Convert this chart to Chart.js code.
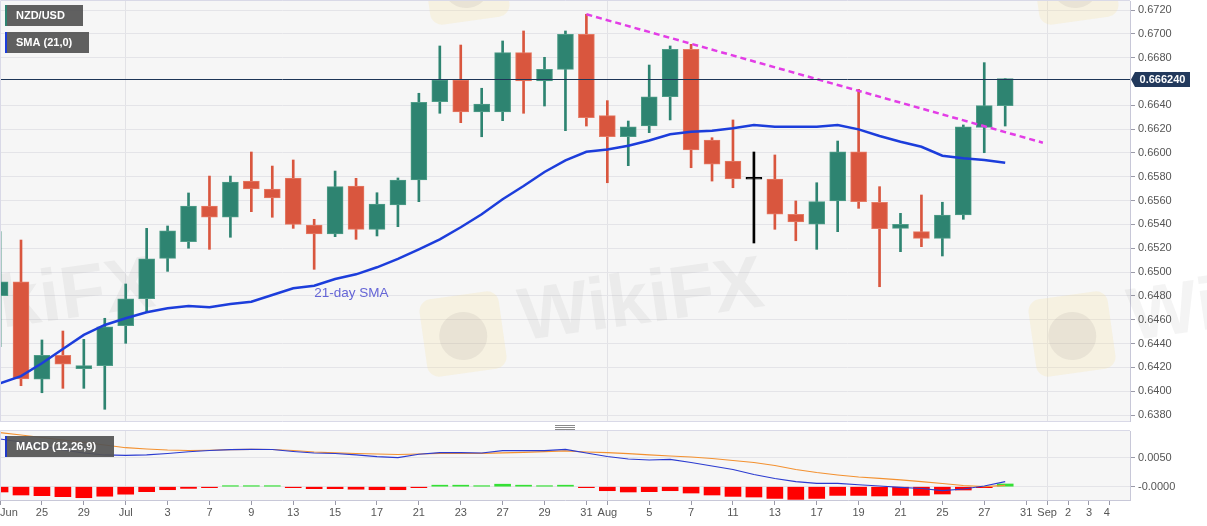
<!DOCTYPE html>
<html>
<head>
<meta charset="utf-8">
<script src="https://cdn.jsdelivr.net/npm/chart.js@4.4.0/dist/chart.umd.min.js"></script>
<style>
  html, body { margin: 0; padding: 0; background: #fff; }
  #wrap { position: relative; width: 1207px; height: 526px; overflow: hidden; background: #fff; }
  #main { position: absolute; left: 0; top: 0; }
  #macd { position: absolute; left: 0; top: 423px; }
</style>
</head>
<body>
<div id="wrap">
  <canvas id="main" width="1207" height="423"></canvas>
  <canvas id="macd" width="1207" height="103"></canvas>
</div>
<script>
// --- data (daily NZD/USD, Jun 23 -> Aug 28) ---
const days = ["Jun 23","Jun 24","Jun 25","Jun 26","Jun 29","Jun 30","Jul 1","Jul 2","Jul 3","Jul 6","Jul 7","Jul 8","Jul 9","Jul 10","Jul 13","Jul 14","Jul 15","Jul 16","Jul 17","Jul 20","Jul 21","Jul 22","Jul 23","Jul 24","Jul 27","Jul 28","Jul 29","Jul 30","Jul 31","Aug 3","Aug 4","Aug 5","Aug 6","Aug 7","Aug 10","Aug 11","Aug 12","Aug 13","Aug 14","Aug 17","Aug 18","Aug 19","Aug 20","Aug 21","Aug 24","Aug 25","Aug 26","Aug 27","Aug 28"]

const opens = [0.64802,0.64919,0.64100,0.64301,0.64188,0.64214,0.64550,0.64776,0.65115,0.65255,0.65555,0.65460,0.65764,0.65697,0.65790,0.65395,0.65320,0.65722,0.65359,0.65563,0.65773,0.66430,0.66612,0.66344,0.66344,0.66842,0.66604,0.66702,0.66996,0.66313,0.66136,0.66226,0.66472,0.66870,0.66109,0.65932,0.65779,0.65781,0.65485,0.65403,0.65597,0.66010,0.65586,0.65367,0.65339,0.65283,0.65479,0.66215,0.66397]
const highs = [0.65339,0.65269,0.64430,0.64505,0.64435,0.64612,0.64900,0.65367,0.65387,0.65664,0.65806,0.65806,0.66008,0.65890,0.65941,0.65443,0.65848,0.65787,0.65666,0.65790,0.66501,0.66898,0.66906,0.66543,0.66940,0.67024,0.66803,0.67024,0.67164,0.66439,0.66268,0.66738,0.66898,0.66912,0.66128,0.66277,0.66008,0.65983,0.65597,0.65750,0.66100,0.66534,0.65717,0.65493,0.65647,0.65586,0.66235,0.66758,0.66624]
const lows = [0.64373,0.64046,0.63987,0.64024,0.64024,0.63848,0.64402,0.64659,0.65006,0.65200,0.65191,0.65292,0.65507,0.65460,0.65367,0.65023,0.65297,0.65275,0.65303,0.65381,0.65591,0.66333,0.66254,0.66136,0.66271,0.66333,0.66394,0.66187,0.66226,0.65750,0.65893,0.66170,0.66277,0.65876,0.65764,0.65708,0.65244,0.65359,0.65263,0.65191,0.65339,0.65535,0.64877,0.65171,0.65213,0.65135,0.65443,0.66002,0.66226]
const closes = [0.64919,0.64102,0.64301,0.64226,0.64214,0.64541,0.64776,0.65112,0.65347,0.65555,0.65460,0.65756,0.65697,0.65622,0.65401,0.65320,0.65717,0.65359,0.65571,0.65773,0.66425,0.66612,0.66344,0.66411,0.66842,0.66604,0.66702,0.66996,0.66296,0.66136,0.66220,0.66472,0.66870,0.66025,0.65905,0.65781,0.65779,0.65487,0.65420,0.65591,0.66010,0.65591,0.65364,0.65401,0.65283,0.65479,0.66220,0.66397,0.66624]

const sma21 = [0.64066,0.64127,0.64234,0.64354,0.64472,0.64556,0.64612,0.64662,0.64696,0.64715,0.64704,0.64732,0.64751,0.64807,0.64864,0.64885,0.64942,0.64981,0.65040,0.65110,0.65191,0.65275,0.65376,0.65485,0.65611,0.65722,0.65840,0.65938,0.66010,0.66029,0.66061,0.66104,0.66157,0.66178,0.66187,0.66207,0.66235,0.66220,0.66220,0.66220,0.66235,0.66198,0.66142,0.66094,0.66052,0.65977,0.65955,0.65941,0.65918]

const macdLine = [0.00822,0.00771,0.00702,0.00633,0.00581,0.00547,0.00541,0.00547,0.00572,0.00603,0.00624,0.00638,0.00645,0.00641,0.00607,0.00581,0.00572,0.00547,0.00517,0.00500,0.00559,0.00586,0.00586,0.00581,0.00621,0.00621,0.00621,0.00645,0.00581,0.00521,0.00478,0.00460,0.00472,0.00417,0.00357,0.00297,0.00210,0.00141,0.00086,0.00059,0.00059,0.00034,0.00012,-0.00010,-0.00031,-0.00066,-0.00040,0.00012,0.00086]
const signalLine = [0.00931,0.00891,0.00848,0.00805,0.00762,0.00719,0.00672,0.00650,0.00633,0.00624,0.00628,0.00638,0.00645,0.00641,0.00624,0.00598,0.00584,0.00572,0.00564,0.00555,0.00564,0.00576,0.00576,0.00576,0.00584,0.00593,0.00603,0.00616,0.00598,0.00586,0.00569,0.00547,0.00529,0.00512,0.00486,0.00452,0.00417,0.00366,0.00297,0.00245,0.00202,0.00167,0.00145,0.00116,0.00086,0.00055,0.00021,0.00000,0.00024]
const macdHist = [-0.00091,-0.00143,-0.00155,-0.00172,-0.00190,-0.00164,-0.00129,-0.00086,-0.00052,-0.00029,-0.00012,0.00017,0.00017,0.00009,-0.00012,-0.00034,-0.00034,-0.00043,-0.00052,-0.00052,-0.00009,0.00026,0.00026,0.00017,0.00043,0.00026,0.00017,0.00026,-0.00009,-0.00069,-0.00091,-0.00086,-0.00069,-0.00109,-0.00143,-0.00167,-0.00178,-0.00202,-0.00219,-0.00202,-0.00150,-0.00150,-0.00160,-0.00150,-0.00150,-0.00126,-0.00057,-0.00009,0.00047]

// resistance line: Jul 31 high -> beyond Aug 28
const trendSlots = [28, 49.8]
const trendPrices = [0.67164, 0.66086]

// axes
const priceTicks = [0.6380,0.6400,0.6420,0.6440,0.6460,0.6480,0.6500,0.6520,0.6540,0.6560,0.6580,0.6600,0.6620,0.6640,0.6680,0.6700,0.6720]
const macdTicks = [0, 0.005]
const macdTickLabels = ["-0.0000", "0.0050"]
const xTickSlots = [0,2,4,6,8,10,12,14,16,18,20,22,24,26,28,29,31,33,35,37,39,41,43,45,47,49,50,51,52,53]
const xTickLabels = ["Jun","25","29","Jul","3","7","9","13","15","17","21","23","27","29","31","Aug","5","7","11","13","17","19","21","25","27","31","Sep","2","3","4"]
const monthSlots = [6, 29, 50]

const FONT = '"Liberation Sans", Arial, Helvetica, sans-serif'
Chart.defaults.font.family = FONT
Chart.defaults.font.size = 11

const GREEN = "#2e8471"
const RED = "#d9563e"
const X_MIN = -0.003
const X_MAX = 53.96

const slots = days.map((d, i) => i)
const dirColor = (i, up, down, flat) =>
  closes[i] > opens[i] ? up : closes[i] < opens[i] ? down : flat
const bodyColors = slots.map((i) => dirColor(i, GREEN, RED, "#000"))
const bodyEdges = slots.map((i) => dirColor(i, "#4f9d88", "#e57a64", "#000"))

function tag(ctx, x, y, w, h, text, bar) {
  ctx.save()
  ctx.fillStyle = "rgba(84, 84, 84, 0.93)"
  ctx.fillRect(x, y, w, h)
  ctx.fillStyle = bar
  ctx.fillRect(x, y, 2, h)
  ctx.fillStyle = "#fff"
  ctx.font = "bold 11px " + FONT
  ctx.textBaseline = "middle"
  ctx.fillText(text, x + 11, y + h / 2 + 0.5)
  ctx.restore()
}

// faint watermark pattern
const markSpots = [[-146, 334], [463, 334], [1072, 334], [-143, -18], [466, -18], [1075, -18]]
function drawMark(ctx, cx, cy) {
  ctx.save()
  ctx.translate(cx, cy)
  ctx.rotate(-0.14)
  ctx.fillStyle = "rgba(244, 222, 150, 0.22)"
  ctx.beginPath()
  ctx.roundRect(-40, -39, 80, 78, 12)
  ctx.fill()
  ctx.fillStyle = "rgba(120, 110, 110, 0.10)"
  ctx.beginPath()
  ctx.arc(0, 2, 24, 0, Math.PI * 2)
  ctx.fill()
  ctx.font = "bold 74px " + FONT
  ctx.fillStyle = "rgba(120, 110, 110, 0.08)"
  ctx.textBaseline = "middle"
  ctx.fillText("WikiFX", 58, -6)
  ctx.restore()
}

const mainDeco = {
  id: "mainDeco",
  beforeDraw(chart) {
    const { ctx, chartArea: a } = chart
    ctx.save()
    ctx.fillStyle = "#f6f6f6"
    ctx.fillRect(a.left, a.top, a.right - a.left, a.bottom - a.top)
    ctx.restore()
  },
  beforeDatasetsDraw(chart) {
    markSpots.forEach(([x, y]) => drawMark(chart.ctx, x, y))
  },
  afterDatasetsDraw(chart) {
    const { ctx, chartArea: a, scales } = chart
    const py = Math.round(scales.y.getPixelForValue(closes[closes.length - 1])) + 0.5
    ctx.save()
    ctx.strokeStyle = "#1d3557"
    ctx.lineWidth = 1
    ctx.beginPath()
    ctx.moveTo(a.left, py)
    ctx.lineTo(a.right, py)
    ctx.stroke()
    ctx.restore()
  },
  afterDraw(chart) {
    const { ctx, chartArea: a, scales } = chart
    const last = closes[closes.length - 1]
    const py = Math.round(scales.y.getPixelForValue(last)) + 0.5
    ctx.save()
    // pane border
    ctx.strokeStyle = "#d9d9e7"
    ctx.lineWidth = 1
    ctx.beginPath()
    ctx.moveTo(a.left + 0.5, a.bottom + 0.5)
    ctx.lineTo(a.left + 0.5, a.top - 0.5)
    ctx.lineTo(a.right, a.top - 0.5)
    ctx.moveTo(a.left, a.bottom + 0.5)
    ctx.lineTo(a.right, a.bottom + 0.5)
    ctx.stroke()
    // last price label
    ctx.fillStyle = "#22395c"
    ctx.beginPath()
    ctx.moveTo(a.right + 1, py)
    ctx.lineTo(a.right + 5, py - 7.5)
    ctx.lineTo(a.right + 60, py - 7.5)
    ctx.lineTo(a.right + 60, py + 7.5)
    ctx.lineTo(a.right + 5, py + 7.5)
    ctx.closePath()
    ctx.fill()
    ctx.fillStyle = "#fff"
    ctx.font = "bold 11px " + FONT
    ctx.textAlign = "center"
    ctx.textBaseline = "middle"
    ctx.fillText(last.toFixed(6), a.right + 32.5, py + 0.5)
    // SMA annotation
    ctx.fillStyle = "#6565d6"
    ctx.font = "13.5px " + FONT
    ctx.textAlign = "left"
    ctx.fillText("21-day SMA", scales.x.getPixelForValue(15), scales.y.getPixelForValue(0.6482))
    ctx.restore()
    tag(ctx, 5, 5, 78, 21, "NZD/USD", GREEN)
    tag(ctx, 5, 32, 84, 21, "SMA (21,0)", "#1c3ddb")
  },
}

new Chart(document.getElementById("main"), {
  type: "bar",
  plugins: [mainDeco],
  data: {
    datasets: [
      {
        type: "line",
        data: trendSlots.map((x, i) => ({ x, y: trendPrices[i] })),
        borderColor: "#e33de6",
        borderWidth: 2.5,
        borderDash: [6, 4],
        pointRadius: 0,
        order: 0,
      },
      {
        type: "line",
        data: slots.map((i) => ({ x: i, y: sma21[i] })),
        borderColor: "#1c3ddb",
        borderWidth: 2.5,
        pointRadius: 0,
        tension: 0,
        order: 1,
      },
      {
        type: "bar",
        data: slots.map((i) => ({ x: i, y: [opens[i], closes[i]] })),
        backgroundColor: bodyColors,
        borderColor: bodyEdges,
        borderWidth: 1,
        borderSkipped: false,
        barThickness: 16,
        minBarLength: 2,
        grouped: false,
        order: 2,
      },
      {
        type: "bar",
        data: slots.map((i) => ({ x: i, y: [lows[i], highs[i]] })),
        backgroundColor: bodyColors,
        barThickness: 2,
        grouped: false,
        order: 3,
      },
    ],
  },
  options: {
    responsive: false,
    animation: false,
    events: [],
    layout: { padding: { top: 1, bottom: 2, left: 0, right: 0 } },
    plugins: { legend: { display: false }, tooltip: { enabled: false } },
    scales: {
      x: {
        type: "linear",
        min: X_MIN,
        max: X_MAX,
        offset: false,
        grid: { offset: false, color: "#e2e2e6", drawTicks: false },
        border: { display: false },
        ticks: { display: false },
        afterBuildTicks: (axis) => { axis.ticks = monthSlots.map((v) => ({ value: v })) },
        afterFit: (axis) => { axis.height = 0; axis.paddingLeft = 0; axis.paddingRight = 0 },
      },
      y: {
        type: "linear",
        position: "right",
        min: 0.637497,
        max: 0.672756,
        beginAtZero: false,
        grid: { color: "#e4e4e8", tickColor: "#9a9aa8", tickLength: 5 },
        border: { color: "#c8c8d8" },
        ticks: { color: "#555", padding: 3, font: { size: 11 }, callback: (v) => v.toFixed(4) },
        afterBuildTicks: (axis) => { axis.ticks = priceTicks.map((v) => ({ value: v })) },
        afterFit: (axis) => { axis.width = 77; axis.paddingTop = 0; axis.paddingBottom = 0 },
      },
    },
  },
})

// --- MACD pane ---
const macdDeco = {
  id: "macdDeco",
  beforeDraw(chart) {
    const { ctx, chartArea: a } = chart
    ctx.save()
    ctx.fillStyle = "#f6f6f6"
    ctx.fillRect(a.left, a.top, a.right - a.left, a.bottom - a.top)
    ctx.restore()
  },
  afterDraw(chart) {
    const { ctx, chartArea: a } = chart
    ctx.save()
    ctx.strokeStyle = "#d9d9e7"
    ctx.lineWidth = 1
    ctx.beginPath()
    ctx.moveTo(a.left + 0.5, a.bottom)
    ctx.lineTo(a.left + 0.5, a.top - 0.5)
    ctx.lineTo(a.right, a.top - 0.5)
    ctx.stroke()
    // drag handle between panes
    ctx.strokeStyle = "#8a8a8a"
    ctx.beginPath()
    ;[2.5, 4.5, 6.5].forEach((y) => {
      ctx.moveTo(555, y)
      ctx.lineTo(575, y)
    })
    ctx.stroke()
    ctx.restore()
    tag(ctx, 5, 13, 109, 21, "MACD (12,26,9)", "#2038c8")
  },
}

new Chart(document.getElementById("macd"), {
  type: "bar",
  plugins: [macdDeco],
  data: {
    datasets: [
      {
        type: "line",
        data: slots.map((i) => ({ x: i, y: macdLine[i] })),
        borderColor: "#2b3bd0",
        borderWidth: 1.2,
        pointRadius: 0,
        order: 0,
      },
      {
        type: "line",
        data: slots.map((i) => ({ x: i, y: signalLine[i] })),
        borderColor: "#f39130",
        borderWidth: 1.2,
        pointRadius: 0,
        order: 1,
      },
      {
        type: "bar",
        data: slots.map((i) => ({ x: i, y: macdHist[i] })),
        backgroundColor: macdHist.map((v) => (v >= 0 ? "#35e035" : "#ff0000")),
        barThickness: 16,
        minBarLength: 1,
        order: 2,
      },
    ],
  },
  options: {
    responsive: false,
    animation: false,
    events: [],
    layout: { padding: { top: 8, bottom: 0, left: 0, right: 0 } },
    plugins: { legend: { display: false }, tooltip: { enabled: false } },
    scales: {
      x: {
        type: "linear",
        min: X_MIN,
        max: X_MAX,
        offset: false,
        grid: {
          offset: false,
          color: (ctx) => (ctx.tick && monthSlots.includes(ctx.tick.value) ? "#e2e2e6" : "rgba(0,0,0,0)"),
          tickColor: "#9a9aa8",
          tickLength: 5,
        },
        border: { color: "#c8c8d8" },
        ticks: {
          autoSkip: false,
          maxRotation: 0,
          align: "inner",
          padding: 1,
          color: "#555",
          font: { size: 11 },
          callback: (v, i) => xTickLabels[i],
        },
        afterBuildTicks: (axis) => { axis.ticks = xTickSlots.map((v) => ({ value: v })) },
        afterFit: (axis) => { axis.height = 26; axis.paddingLeft = 0; axis.paddingRight = 0 },
      },
      y: {
        type: "linear",
        position: "right",
        min: -0.002293,
        max: 0.009603,
        beginAtZero: false,
        grid: { color: "#e4e4e8", tickColor: "#9a9aa8", tickLength: 5 },
        border: { color: "#c8c8d8" },
        ticks: { color: "#555", padding: 3, font: { size: 11 }, callback: (v, i) => macdTickLabels[i] },
        afterBuildTicks: (axis) => { axis.ticks = macdTicks.map((v) => ({ value: v })) },
        afterFit: (axis) => { axis.width = 77; axis.paddingTop = 0; axis.paddingBottom = 0 },
      },
    },
  },
})
</script>
</body>
</html>
